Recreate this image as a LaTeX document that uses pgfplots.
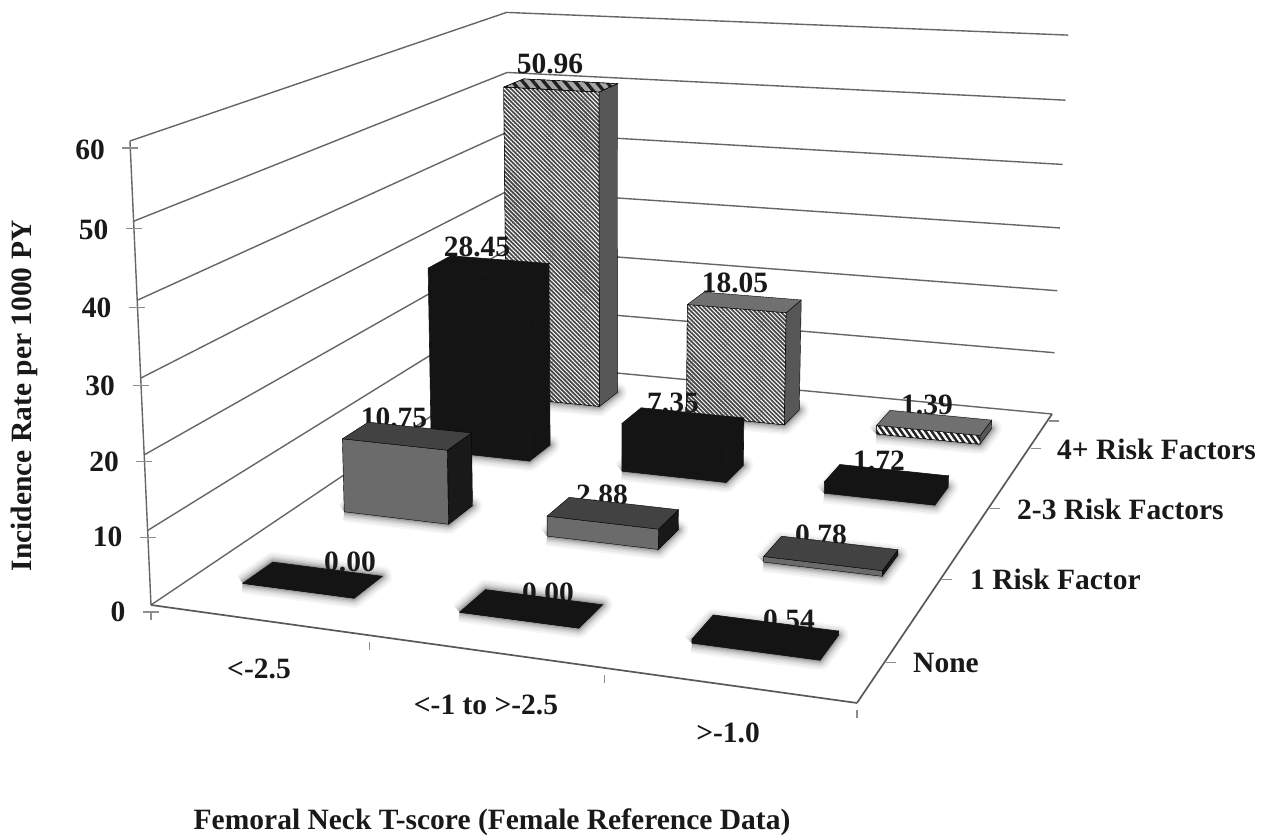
\documentclass[border=0pt]{standalone}
\usepackage{pgfplots}
\pgfplotsset{compat=1.18}
\usepackage{fontspec}
\setmainfont{Liberation Serif}
\usetikzlibrary{patterns.meta}

% Perspective projection of the chart box: u, v in [0,1] on the floor, z in rate units.
\newcommand\Proj[3]{%
  \pgfmathsetmacro\ptz{#3/60}%
  \pgfmathsetmacro\pw{1-0.10271*#1+0.33954*#2-0.04359*\ptz}%
  \pgfmathsetmacro\px{(151+617.98*#1+532.17*#2-26.68*\ptz)/\pw}%
  \pgfmathsetmacro\py{(605+25.80*#1-118.75*#2-470.16*\ptz)/\pw}%
}
\newcommand\Corner[4]{\Proj{#2}{#3}{#4}\expandafter\xdef\csname P#1\endcsname{(\px,\py)}}
\newcommand\Face[5]{%
  \edef\tmp{\noexpand\addplot[#1,forget plot] coordinates {\csname P#2\endcsname\csname P#3\endcsname\csname P#4\endcsname\csname P#5\endcsname\csname P#2\endcsname};}\tmp}
\newcommand\BarCorners[3]{%
  \pgfmathsetmacro\ua{#1-0.087}\pgfmathsetmacro\ub{#1+0.087}%
  \pgfmathsetmacro\va{#2-0.035}\pgfmathsetmacro\vb{#2+0.035}%
  \Corner{A}{\ua}{\va}{0}\Corner{B}{\ub}{\va}{0}\Corner{C}{\ub}{\vb}{0}\Corner{D}{\ua}{\vb}{0}%
  \Corner{E}{\ua}{\va}{#3}\Corner{F}{\ub}{\va}{#3}\Corner{G}{\ub}{\vb}{#3}\Corner{H}{\ua}{\vb}{#3}%
}
% Wall and floor lines
\newcommand\WallLine[1]{%
  \Corner{A}{0}{0}{#1}\Corner{B}{0}{1}{#1}\Corner{C}{1}{1}{#1}%
  \edef\tmp{\noexpand\addplot[wall,forget plot] coordinates {\PA\PB\PC};}\tmp}
\newcommand\Segment[7]{%
  \Corner{A}{#2}{#3}{#4}\Corner{B}{#5}{#6}{#7}%
  \edef\tmp{\noexpand\addplot[#1,forget plot] coordinates {\PA\PB};}\tmp}
\newcommand\ZTick[1]{%
  \Proj{0}{0}{#1}\pgfmathsetmacro\xa{\px-8}\pgfmathsetmacro\xb{\px+8}\pgfmathsetmacro\yy{\py+7}%
  \edef\tmp{\noexpand\addplot[axistick,forget plot] coordinates {(\xa,\yy)(\xb,\yy)};}\tmp}
\newcommand\XTick[1]{%
  \Proj{#1}{0}{0}\pgfmathsetmacro\ya{\py+7}\pgfmathsetmacro\yb{\py+15}%
  \edef\tmp{\noexpand\addplot[axistick,forget plot] coordinates {(\px,\ya)(\px,\yb)};}\tmp}
\newcommand\VTick[1]{%
  \Proj{1}{#1}{0}\pgfmathsetmacro\xa{\px-3}\pgfmathsetmacro\xb{\px+7}\pgfmathsetmacro\yy{\py+7}%
  \edef\tmp{\noexpand\addplot[axistick,forget plot] coordinates {(\xa,\yy)(\xb,\yy)};}\tmp}

\tikzset{
  wall/.style={draw=black!60,line width=1.4pt},
  floorline/.style={draw=black!65,line width=1.7pt},
  axistick/.style={draw=black!45,line width=1.1pt},
  halo/.style={draw=black,opacity=#1,line join=round},
  lab/.style={font=\fontsize{29.5}{32}\selectfont\bfseries,text=black!90,inner sep=0pt},
  % face fills, one set for each risk group
  nofront/.style={fill=black!92,draw=black!92,line width=0.6pt},
  notop/.style={fill=black!92,draw=black!92,line width=0.6pt},
  noside/.style={fill=black!92,draw=black!92,line width=0.6pt},
  onefront/.style={fill=black!58},
  onetop/.style={fill=black!74},
  oneside/.style={fill=black!90},
  twofront/.style={fill=black!92,draw=black!92,line width=0.6pt},
  twotop/.style={fill=black!92,draw=black!92,line width=0.6pt},
  twoside/.style={fill=black!92,draw=black!92,line width=0.6pt},
  fourfront/.style={preaction={fill=black!72},pattern={Lines[angle=-45,distance=3pt,line width=1pt]},pattern color=white},
  fourlow/.style={preaction={fill=black!85},pattern={Lines[angle=-55,distance=5pt,line width=2.2pt]},pattern color=white},
  fourside/.style={fill=black!66},
  fourtopA/.style={preaction={fill=black!35},pattern={Lines[angle=-50,distance=8pt,line width=3.2pt]},pattern color=black!88},
  fourtopB/.style={fill=black!56},
}

% col u, row v, rate, label x, label y, front, top and side fills; farthest row first
\newcommand\BarList{
  0.16667/0.875/50.96/550/64/fourfront/fourtopA/fourside,
  0.50000/0.875/18.05/735/283/fourfront/fourtopB/fourside,
  0.83333/0.875/1.39/927/405/fourlow/fourtopB/fourside,
  0.16667/0.625/28.45/477/247/twofront/twotop/twoside,
  0.50000/0.625/7.35/673/403/twofront/twotop/twoside,
  0.83333/0.625/1.72/879/461/twofront/twotop/twoside,
  0.16667/0.375/10.75/394/418/onefront/onetop/oneside,
  0.50000/0.375/2.88/602/495/onefront/onetop/oneside,
  0.83333/0.375/0.78/821/535/onefront/onetop/oneside,
  0.16667/0.125/0.00/350/562/nofront/notop/noside,
  0.50000/0.125/0.00/548/593/nofront/notop/noside,
  0.83333/0.125/0.54/789/620/nofront/notop/noside}

\begin{document}
\begin{tikzpicture}
\begin{axis}[
  scale only axis,width=1270pt,height=840pt,
  xmin=0,xmax=1270,ymin=0,ymax=840,y dir=reverse,
  axis lines=none,clip=false]
  \path[use as bounding box] (axis cs:0,0) rectangle (axis cs:1270,840);

  % walls
  \foreach \z in {0,10,20,30,40,50,60}{\WallLine{\z}}
  \Segment{wall}{0}{0}{0}{0}{0}{60}
  \Segment{floorline}{0}{0}{0}{1}{0}{0}
  \Segment{floorline}{1}{0}{0}{1}{1}{0}
  \foreach \z in {0,10,20,30,40,50,60}{\ZTick{\z}}
  \foreach \u in {0,0.33333,0.66667,1}{\XTick{\u}}
  \foreach \v in {0.125,0.375,0.625,0.875,1}{\VTick{\v}}

  % soft ground shadows, built up from wide to narrow strokes
  \foreach \u/\v/\z/\lx/\ly/\f/\t/\s in \BarList{
    \BarCorners{\u}{\v}{\z}
    \Face{halo=0.035,line width=20pt}{A}{B}{C}{D}
    \Face{halo=0.05,line width=16pt}{A}{B}{C}{D}
    \Face{halo=0.06,line width=12pt}{A}{B}{C}{D}
    \Face{halo=0.08,line width=9pt}{A}{B}{C}{D}
    \Face{halo=0.10,line width=6pt}{A}{B}{C}{D}
    \Face{halo=0.14,line width=3pt}{A}{B}{C}{D}
  }
  % bars, each with its value behind its top edge
  \foreach \u/\v/\z/\lx/\ly/\f/\t/\s in \BarList{
    \BarCorners{\u}{\v}{\z}
    \edef\tmp{\noexpand\node[lab] at (axis cs:\lx,\ly) {\z};}\tmp
    \Face{\f}{A}{B}{F}{E}
    \Face{\s}{B}{C}{G}{F}
    \Face{\t}{E}{F}{G}{H}
  }

  % axis text
  \node[lab] at (axis cs:90,150) {60};
  \node[lab] at (axis cs:93.5,230) {50};
  \node[lab] at (axis cs:96.5,308) {40};
  \node[lab] at (axis cs:100,386) {30};
  \node[lab] at (axis cs:104,462) {20};
  \node[lab] at (axis cs:107.5,537) {10};
  \node[lab] at (axis cs:118,612) {0};
  \node[lab] at (axis cs:259,669) {<-2.5};
  \node[lab] at (axis cs:486,705) {<-1 to >-2.5};
  \node[lab] at (axis cs:728,733) {>-1.0};
  \node[lab,anchor=west] at (axis cs:913,663) {None};
  \node[lab,anchor=west] at (axis cs:970,579) {1 Risk Factor};
  \node[lab,anchor=west] at (axis cs:1017,509) {2-3 Risk Factors};
  \node[lab,anchor=west] at (axis cs:1057,449) {4+ Risk Factors};
  \node[lab,rotate=90] at (axis cs:24,396) {Incidence Rate per 1000 PY};
  \node[lab] at (axis cs:492,822) {Femoral Neck T-score (Female Reference Data)};
\end{axis}
\end{tikzpicture}
\end{document}
